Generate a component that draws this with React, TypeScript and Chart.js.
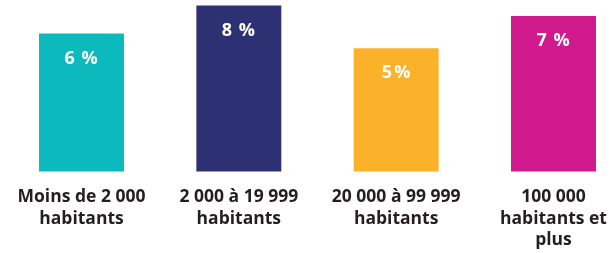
import React, { useEffect, useRef } from 'react';
import { Chart, registerables } from 'chart.js';

Chart.register(...registerables);

const CATEGORIES: string[][] = [
  ['Moins de 2 000', 'habitants'],
  ['2 000 à 19 999', 'habitants'],
  ['20 000 à 99 999', 'habitants'],
  ['100 000', 'habitants et', 'plus'],
];
const VALUES = [6.0, 7.9, 5.0, 7.2];
const VALUE_SEPARATORS = [' ', ' ', '\u202F', ' '];
const COLORS = ['#0CB9BD', '#2D3173', '#FBB129', '#D0198C'];
const Y_MIN = -3.35;
const Y_MAX = 8.28;

const FONT = '"Open Sans", sans-serif';

const valueLabels = {
  id: 'valueLabels',
  afterDatasetsDraw(chart: any) {
    const ctx = chart.ctx as CanvasRenderingContext2D;
    const meta = chart.getDatasetMeta(0);
    ctx.save();
    ctx.fillStyle = '#ffffff';
    ctx.font = `bold 18px ${FONT}`;
    ctx.textAlign = 'center';
    ctx.textBaseline = 'middle';
    try { (ctx as any).letterSpacing = '1px'; } catch (e) {}
    meta.data.forEach((bar: any, i: number) => {
      const text = `${Math.round(VALUES[i])}${VALUE_SEPARATORS[i]}%`;
      ctx.fillText(text, bar.x, bar.y + 25);
    });
    ctx.restore();
  },
};

export default function App() {
  const ref = useRef<HTMLCanvasElement | null>(null);
  useEffect(() => {
    if (!ref.current) return;
    const chart = new Chart(ref.current, {
      type: 'bar',
      data: {
        labels: CATEGORIES,
        datasets: [
          {
            data: VALUES,
            backgroundColor: COLORS,
            base: Y_MIN,
            barPercentage: 0.54,
            categoryPercentage: 1,
            clip: false as any,
          } as any,
        ],
      },
      options: {
        responsive: false,
        animation: false,
        layout: { padding: { left: 81.5, right: 58.5, top: 0, bottom: -13 } },
        plugins: { legend: { display: false }, tooltip: { enabled: false } },
        scales: {
          x: {
            offset: false,
            grid: { display: false, drawTicks: false },
            border: { display: false },
            afterFit: (scale: any) => {
              scale.paddingLeft = 0;
              scale.paddingRight = 0;
            },
            ticks: {
              autoSkip: false,
              maxRotation: 0,
              minRotation: 0,
              padding: 15,
              color: '#231F20',
              font: { family: FONT, weight: 'bold', size: 17.5, lineHeight: 1.23 },
            },
          },
          y: { display: false, min: Y_MIN, max: Y_MAX },
        },
      },
      plugins: [valueLabels],
    });
    return () => chart.destroy();
  }, []);
  return (
    <div style={{ position: 'fixed', left: 0, top: 0, width: 612, height: 253, background: '#fff' }}>
      <canvas ref={ref} width={612} height={253} />
    </div>
  );
}
